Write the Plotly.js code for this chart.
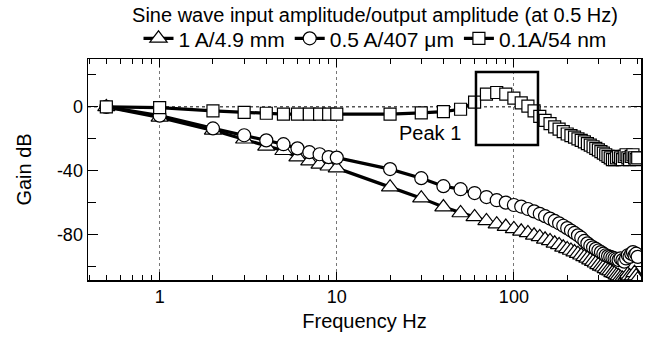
<!DOCTYPE html>
<html>
<head>
<meta charset="utf-8">
<script src="https://cdn.plot.ly/plotly-3.0.1.min.js"></script>
<style>html,body{margin:0;padding:0;background:#fff;}#chart{width:646px;height:340px;}</style>
</head>
<body>
<div id="chart"></div>
<script>
// Frequencies (Hz)
const freqLow = [0.5, 1, 2, 3, 4, 5, 6, 7, 8, 9, 10, 20, 30, 40, 50];
const freqHigh = [60, 70, 80, 90, 100, 110, 120, 130, 140, 150, 160, 170, 180, 190, 200,
  210, 220, 230, 240, 250, 260, 270, 280, 290, 300, 310, 320, 330, 340, 350,
  360, 370, 380, 390, 400, 410, 420, 430, 440, 450, 460, 470, 480, 490, 500];
const frequency = freqLow.concat(freqHigh);

// Gain (dB) for each input amplitude
const gain1A = [0, -6.6, -14.7, -20.3, -24.7, -27.5, -31.5, -34, -36, -37.2, -38.4, -50.3, -57.2, -62.8, -66.5,
  -69, -71.5, -73.5, -75, -76.5, -78, -79, -80.5, -81.5, -83, -84, -85.5, -86.5, -88, -89,
  -90, -91, -92, -93, -94, -95, -96, -97, -98, -99, -100, -100.5, -101.5, -102.5, -103,
  -104, -104.5, -105.5, -106, -107, -107.5, -108, -107, -105, -106, -108, -106, -104, -106, -108];
const gain05A = [0, -5.5, -13.5, -17.8, -21, -23.4, -26, -28.4, -29.7, -31.5, -31.8, -39, -44.7, -49.7, -51.6,
  -54, -56.5, -58.5, -60, -61.5, -62.5, -64, -65.5, -67, -68.5, -70, -71.5, -73, -74.5, -76,
  -77.5, -79, -80.5, -82, -84, -85.5, -87, -88, -89, -90, -91, -92, -93, -93.5, -94,
  -94.5, -95, -95.5, -96, -95, -96, -97, -95, -93, -94, -92, -91, -93, -92, -94];
const gain01A = [0, -0.5, -2.5, -3.5, -4, -4.5, -4.5, -4.5, -4.5, -4.5, -4.5, -4.5, -3.8, -3, -1.5,
  3, 8, 9, 8, 5.5, 2.5, 0.5, -2.5, -6, -8.5, -10.5, -12.5, -14, -15.5, -17,
  -18, -19, -20, -21, -22, -23, -24, -25, -26, -27, -28, -29, -30, -31, -32,
  -33, -33, -32, -31, -32, -33, -31, -30, -32, -33, -31, -30, -32, -33, -32];

const seriesNames = ['1 A/4.9 mm', '0.5 A/407 \u03bcm', '0.1A/54 nm'];
const xTickVals = [1, 10, 100];
const xTickText = ['1', '10', '100'];
const yTickVals = [0, -40, -80];
const yTickText = ['0', '-40', '-80'];

const FONT = 'Arial, "Liberation Sans", Helvetica, sans-serif';

function trace(y, name, symbol, size) {
  return {
    x: frequency, y: y, name: name, type: 'scatter', mode: 'lines+markers',
    line: {color: '#000', width: 3.2},
    marker: {symbol: symbol, size: size, color: '#fff', line: {color: '#000', width: 1.2}},
    cliponaxis: true
  };
}

const data = [
  trace(gain1A, seriesNames[0], 'triangle-up', 15),
  trace(gain05A, seriesNames[1], 'circle', 13),
  trace(gain01A, seriesNames[2], 'square', 12)
];

const layout = {
  width: 646, height: 340,
  margin: {l: 88, r: 5, t: 59, b: 60},
  paper_bgcolor: '#fff', plot_bgcolor: '#fff',
  font: {family: FONT, color: '#000', size: 18},
  showlegend: true,
  title: {
    text: 'Sine wave input amplitude/output amplitude (at 0.5 Hz)',
    font: {family: FONT, size: 20, color: '#000'},
    xref: 'container', x: 0.5805, xanchor: 'center',
    yref: 'container', y: 0.957, yanchor: 'middle'
  },
  legend: {
    orientation: 'h', x: 0.519, xanchor: 'center', y: 1.092, yanchor: 'middle',
    font: {family: FONT, size: 21, color: '#000'},
    bgcolor: 'rgba(0,0,0,0)', itemwidth: 30, tracegroupgap: 0
  },
  xaxis: {
    type: 'log',
    range: [Math.log10(0.394), Math.log10(522)],
    tickmode: 'array', tickvals: xTickVals, ticktext: xTickText,
    ticks: 'inside', ticklen: 8, tickwidth: 1, tickcolor: '#000',
    minor: {dtick: 'D1', ticks: 'inside', ticklen: 5, tickwidth: 1, tickcolor: '#000', showgrid: false},
    showline: true, linecolor: '#000', linewidth: 1.5, mirror: 'allticks',
    showgrid: true, gridcolor: '#777', griddash: 'dot', gridwidth: 1,
    zeroline: false,
    tickfont: {family: FONT, size: 18, color: '#000'},
    title: {text: 'Frequency Hz', font: {family: FONT, size: 20, color: '#000'}, standoff: 8}
  },
  yaxis: {
    range: [-108.5, 30],
    tickmode: 'array', tickvals: yTickVals, ticktext: yTickText,
    ticks: 'inside', ticklen: 10, tickwidth: 1, tickcolor: '#000',
    minor: {tickmode: 'linear', tick0: 0, dtick: 20, ticks: 'inside', ticklen: 8, tickwidth: 1, tickcolor: '#000', showgrid: false},
    showline: true, linecolor: '#000', linewidth: 1.5, mirror: 'allticks',
    showgrid: false, zeroline: false,
    tickfont: {family: FONT, size: 18, color: '#000'},
    title: {text: 'Gain dB', font: {family: FONT, size: 20, color: '#000'}, standoff: 20}
  },
  shapes: [
    {type: 'line', xref: 'paper', x0: 0, x1: 1, yref: 'y', y0: 0, y1: 0,
     line: {color: '#555', width: 1.5, dash: 'dot'}, layer: 'below'},
    {type: 'rect', xref: 'paper', yref: 'paper', x0: 0.7016, x1: 0.8137, y0: 0.611, y1: 0.941,
     line: {color: '#000', width: 2.5}, fillcolor: 'rgba(0,0,0,0)', layer: 'above'}
  ],
  annotations: [
    {text: 'Peak 1', xref: 'paper', yref: 'paper', x: 0.678, y: 0.665,
     xanchor: 'right', yanchor: 'middle', showarrow: false,
     font: {family: FONT, size: 20, color: '#000'}}
  ]
};

Plotly.newPlot('chart', data, layout, {displayModeBar: false, staticPlot: true});
</script>
</body>
</html>
